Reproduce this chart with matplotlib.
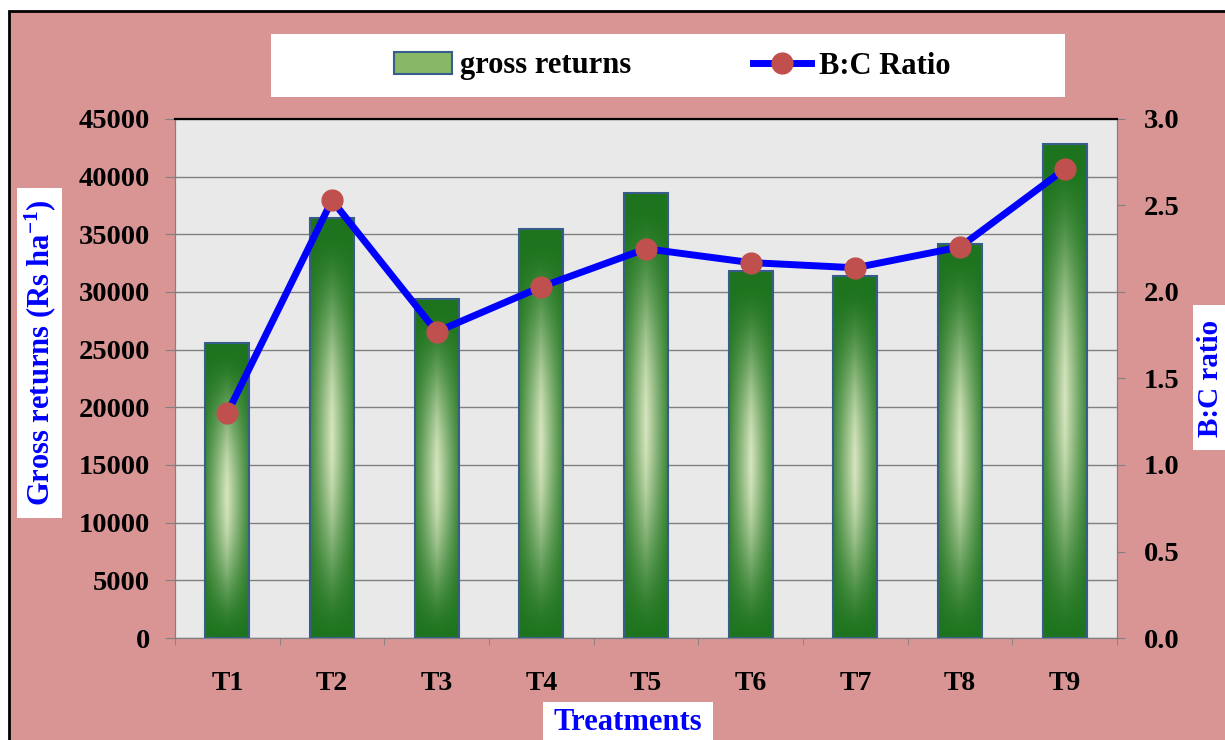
import numpy as np
import matplotlib
matplotlib.use('Agg')
import matplotlib.pyplot as plt
from matplotlib.patches import Rectangle, Patch
from matplotlib.lines import Line2D
from matplotlib.ticker import FormatStrFormatter

plt.rcParams['font.family'] = ['Liberation Serif', 'DejaVu Serif']
plt.rcParams['font.weight'] = 'bold'
plt.rcParams['mathtext.fontset'] = 'custom'
plt.rcParams['mathtext.rm'] = 'Liberation Serif:bold'
plt.rcParams['mathtext.bf'] = 'Liberation Serif:bold'
plt.rcParams['mathtext.default'] = 'bf'

# data
treatments = ['T1', 'T2', 'T3', 'T4', 'T5', 'T6', 'T7', 'T8', 'T9']
gross_returns = [25600, 36400, 29400, 35500, 38600, 31800, 31400, 34200, 42800]
bc_ratio = [1.30, 2.53, 1.77, 2.03, 2.25, 2.17, 2.14, 2.26, 2.71]

W, H = 1225, 740
pink = '#d99594'
blue = '#0000ff'
red = '#c0504d'


def fx(px):
    return px / W


def fy(py):
    return 1 - py / H


def bar_gradient(nx=60, ny=240):
    # dark green edges, pale highlight down the middle of each bar
    u = np.linspace(0, 1, nx)[None, :]
    v = np.linspace(0, 1, ny)[:, None]
    across = (1 - np.abs(2 * u - 1)) ** 1.1
    along = np.sin(np.pi * np.clip(v * 1.04, 0, 1)) ** 1.5
    t = along * (0.2 + 0.8 * across)
    dark = np.array([30, 116, 30]) / 255
    light = np.array([215, 229, 190]) / 255
    return dark + (light - dark) * t[..., None]


fig = plt.figure(figsize=(W / 100, H / 100), dpi=100)
fig.patch.set_facecolor('white')

# pink chart area with black frame
fig.add_artist(Rectangle((fx(9), -0.05), 1.1, fy(11) + 0.05, transform=fig.transFigure,
                         facecolor=pink, edgecolor='black', lw=2, zorder=-2))
# white legend box
fig.add_artist(Rectangle((fx(271), fy(97)), fx(1065 - 271), 63 / H, transform=fig.transFigure,
                         facecolor='white', edgecolor='none', zorder=-1))

ax = fig.add_axes([fx(175), fy(638), fx(1117 - 175), (638 - 119) / H])
ax.set_facecolor('#e9e9e9')
x = np.arange(len(treatments))
bars = ax.bar(x, gross_returns, width=0.42, facecolor='none', edgecolor='#385d8a',
              lw=1.5, zorder=3)
grad = bar_gradient()
for b in bars:
    x0, w, h = b.get_x(), b.get_width(), b.get_height()
    im = ax.imshow(grad, extent=[x0, x0 + w, 0, h], origin='lower', aspect='auto',
                   zorder=2, interpolation='bilinear')
    im.set_clip_path(b)

ax.set_xlim(-0.5, len(treatments) - 0.5)
ax.set_ylim(0, 45000)
ax.set_yticks(np.arange(0, 45001, 5000))
ax.set_xticks(x)
ax.set_xticklabels(treatments)
ax.set_xticks(np.arange(-0.5, len(treatments), 1), minor=True)
ax.tick_params(axis='x', which='major', length=0, pad=24, labelsize=20)
ax.tick_params(axis='x', which='minor', length=5, color='#808080')
ax.tick_params(axis='y', length=7, color='#808080', pad=11, labelsize=20.5)
ax.yaxis.grid(True, color='#808080', lw=1)
ax.set_axisbelow(True)
for s in ['left', 'bottom', 'right']:
    ax.spines[s].set_color('#808080')
ax.spines['top'].set_color('black')
ax.spines['top'].set_linewidth(1.5)

ax2 = ax.twinx()
ax2.plot(x, bc_ratio, color=blue, lw=5, marker='o', markersize=15,
         markerfacecolor=red, markeredgecolor=red, zorder=5)
ax2.set_ylim(0, 3.0)
ax2.set_yticks(np.arange(0, 3.01, 0.5))
ax2.yaxis.set_major_formatter(FormatStrFormatter('%.1f'))
ax2.tick_params(axis='y', length=6, color='#808080', pad=13, labelsize=20.5)
for s in ['left', 'bottom', 'right']:
    ax2.spines[s].set_color('#808080')
ax2.spines['top'].set_color('black')
ax2.spines['top'].set_linewidth(1.5)

# axis titles in white boxes
fig.add_artist(Rectangle((fx(17), fy(518)), fx(45), 330 / H, transform=fig.transFigure,
                         facecolor='white', edgecolor='none', zorder=1))
fig.text(fx(40), fy(353), r'Gross returns (Rs ha$^{-1}$)', rotation=90, ha='center',
         va='center', color=blue, fontsize=22, fontweight='bold', zorder=2)

fig.add_artist(Rectangle((fx(1193), fy(450)), fx(40), 145 / H, transform=fig.transFigure,
                         facecolor='white', edgecolor='none', zorder=1))
fig.text(fx(1210), fy(378), 'B:C ratio', rotation=90, ha='center', va='center',
         color=blue, fontsize=21, fontweight='bold', zorder=2)

fig.add_artist(Rectangle((fx(543), -0.01), fx(713 - 543), fy(702) + 0.01,
                         transform=fig.transFigure, facecolor='white', edgecolor='none', zorder=1))
fig.text(fx(628), fy(722), 'Treatments', ha='center', va='center', color=blue,
         fontsize=22, fontweight='bold', zorder=2)

handles = [Patch(facecolor='#86b866', edgecolor='#385d8a', lw=1.5),
           Line2D([], [], color=blue, lw=5, marker='o', markersize=15,
                  markerfacecolor=red, markeredgecolor=red)]
fig.legend(handles, ['gross returns', 'B:C Ratio'], loc='center',
           bbox_to_anchor=(fx(672), fy(66)), ncol=2, frameon=False,
           prop={'size': 22, 'weight': 'bold'}, handlelength=1.9,
           columnspacing=4, handletextpad=0.25)

fig.savefig('out.png', dpi=100)
